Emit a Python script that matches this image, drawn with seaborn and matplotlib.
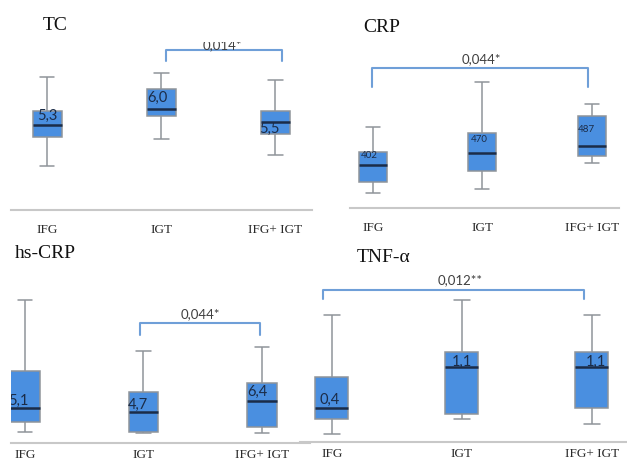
import numpy as np
import pandas as pd
import matplotlib.pyplot as plt
import seaborn as sns

groups = ["IFG", "IGT", "IFG+ IGT"]

# box summaries: whisker low, q1, median, q3, whisker high
# (height above the baseline - the original has no y axis)
tc_vals = [[44, 73, 85, 99, 133], [71, 94, 101, 121, 137], [55, 76, 88, 99, 130]]
tc_labels = ["5,3", "6,0", "5,5"]
tc_p = "0,014*"

crp_vals = [[15, 26, 43, 56, 81], [19, 37, 55, 75, 126], [45, 52, 62, 92, 104]]
crp_labels = ["402", "470", "487"]
crp_p = "0,044*"

hs_vals = [[11, 21, 35, 72, 143], [10, 11, 31, 51, 92], [10, 16, 42, 60, 96]]
hs_labels = ["5,1", "4,7", "6,4"]
hs_p = "0,044*"

tnf_vals = [[8, 23, 34, 65, 127], [23, 28, 75, 90, 142], [18, 34, 75, 90, 127]]
tnf_labels = ["0,4", "1,1", "1,1"]
tnf_p = "0,012**"

sns.set_theme(style="white")
serif = "Liberation Serif"
sans = "Lato"

W, H = 627, 463
fig = plt.figure(figsize=(6.27, 4.63), dpi=100)

fill = "#4a8fe0"
edge = "#8f949a"
dark = "#1b2c48"
brk = "#6f9fd8"


def panel(x0, x1, top, bottom, xlim, vals, title, title_xy, labels, lab_pos, lab_size,
          pval, br, pad, width):
    ax = fig.add_axes([x0 / W, 1 - bottom / H, (x1 - x0) / W, (bottom - top) / H])
    ax.patch.set_alpha(0)
    df = pd.DataFrame({"group": np.repeat(groups, 5), "value": np.concatenate(vals)})
    sns.boxplot(data=df, x="group", y="value", order=groups, ax=ax, whis=(0, 100),
                width=width, color=fill, saturation=1, linecolor=edge, linewidth=1.1,
                medianprops=dict(color=dark, linewidth=1.8))
    ax.set_xlim(*xlim)
    ax.set_ylim(0, bottom - top)
    sns.despine(ax=ax, left=True)
    ax.spines["bottom"].set_color("#c8c8c8")
    ax.spines["bottom"].set_linewidth(1.5)
    ax.set_yticks([])
    ax.set_xlabel("")
    ax.set_ylabel("")
    ax.tick_params(axis="x", length=0, pad=pad, labelcolor="#2a2a2a")
    for t in ax.get_xticklabels():
        t.set_fontfamily(serif)
        t.set_fontsize(9.5)
    for i, (lab, (dx, y)) in enumerate(zip(labels, lab_pos)):
        ax.text(i + dx, y, lab, ha="center", va="center", fontsize=lab_size,
                family=sans, color=dark, clip_on=True)
    bx0, bx1, by, bend, tx, ty, tva = br
    ax.plot([bx0, bx0, bx1, bx1], [bend, by, by, bend], color=brk, lw=1.5,
            solid_joinstyle="round", clip_on=False)
    ax.text(tx, ty, pval, ha="center", va=tva, fontsize=9.5, family=sans,
            color="#404040", clip_on=True)
    fig.text(title_xy[0] / W, 1 - title_xy[1] / H, title, ha="left", va="center",
             fontsize=14, family=serif, color="#111111")
    return ax


panel(11, 312, 42, 210, (-0.316, 2.32), tc_vals, "TC", (43, 25), tc_labels,
      [(0, 94), (-0.03, 112), (-0.05, 81)], 10.5, tc_p,
      (1.04, 2.06, 160, 149, 1.535, 160.5, "baseline"), 10, 0.254)

panel(350, 619, 40, 208, (-0.21, 2.25), crp_vals, "CRP", (363, 27), crp_labels,
      [(-0.03, 53), (-0.03, 69), (-0.05, 78)], 7, crp_p,
      (-0.01, 1.97, 140, 121, 0.995, 149, "center"), 10, 0.256)

panel(11, 310, 270, 443, (-0.118, 2.405), hs_vals, "hs-CRP", (15, 253), hs_labels,
      [(-0.06, 42), (-0.05, 38), (-0.04, 51)], 10.5, hs_p,
      (0.97, 1.98, 120, 108, 1.48, 129, "center"), 4.5, 0.245)

panel(300, 627, 270, 442, (-0.246, 2.27), tnf_vals, "TNF-\u03b1", (357, 257), tnf_labels,
      [(-0.015, 42), (0, 80), (0.03, 80)], 10.5, tnf_p,
      (-0.07, 1.94, 152, 143, 0.985, 162, "center"), 4.5, 0.254)

fig.savefig("out.png", dpi=100)
